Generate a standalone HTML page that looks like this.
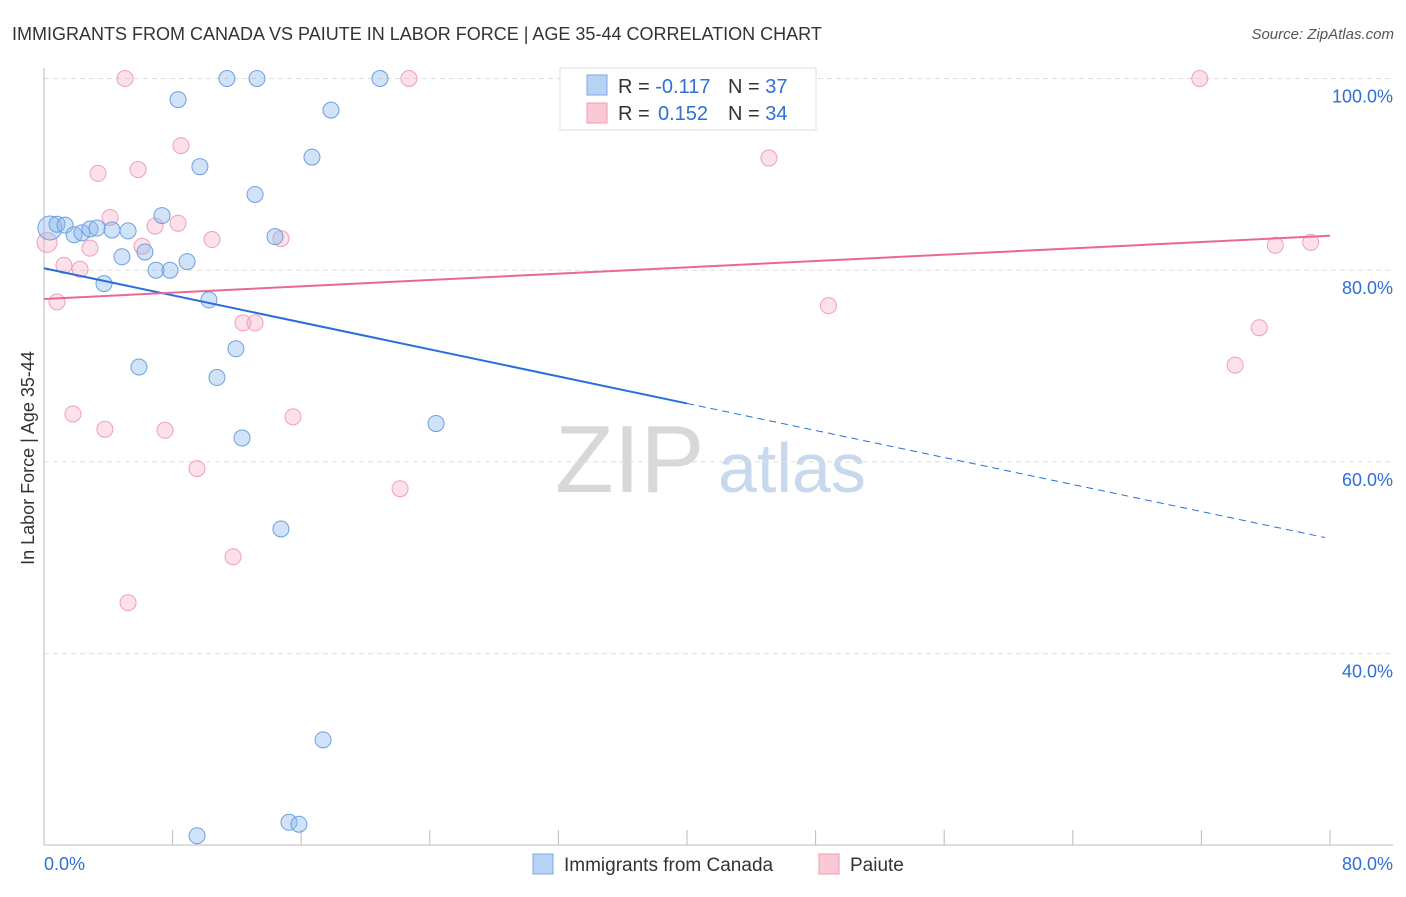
<!DOCTYPE html>
<html><head><meta charset="utf-8"><style>
body{margin:0;background:#fff;font-family:"Liberation Sans",sans-serif}
svg text{font-family:"Liberation Sans",sans-serif}
</style></head><body>
<svg id="c" width="1406" height="892">
<text x="12" y="40" font-size="18" fill="#333">IMMIGRANTS FROM CANADA VS PAIUTE IN LABOR FORCE | AGE 35-44 CORRELATION CHART</text>
<text x="1394" y="39" font-size="15" fill="#555" font-style="italic" text-anchor="end">Source: ZipAtlas.com</text>
<text x="34" y="458" font-size="18" fill="#333" text-anchor="middle" transform="rotate(-90 34 458)">In Labor Force | Age 35-44</text>
<text x="555" y="492" font-size="96" fill="#d8d8d8" font-family="Liberation Serif">ZIP</text>
<text x="718" y="492" font-size="70" fill="#c8d8ee">atlas</text>
<g id="grid"></g><g id="pts"></g><g id="lines"></g>
<g>
<rect x="560" y="68" width="256" height="62" fill="#fff" stroke="#ddd"/>
<rect x="587" y="75" width="20" height="20" fill="#b8d2f5" stroke="#7aa8e8"/>
<rect x="587" y="103" width="20" height="20" fill="#f9c9d6" stroke="#f09ab3"/>
<text x="618" y="93" font-size="20" fill="#333">R = <tspan fill="#2f6fd6">-0.117</tspan><tspan x="728">N = </tspan><tspan fill="#2f6fd6">37</tspan></text>
<text x="618" y="120" font-size="20" fill="#333">R = <tspan x="658" fill="#2f6fd6">0.152</tspan><tspan x="728">N = </tspan><tspan fill="#2f6fd6">34</tspan></text>
</g>
<g>
<rect x="533" y="854" width="20" height="20" fill="#b8d2f5" stroke="#7aa8e8"/>
<text x="564" y="871" font-size="19" fill="#333">Immigrants from Canada</text>
<rect x="819" y="854" width="20" height="20" fill="#f9c9d6" stroke="#f09ab3"/>
<text x="850" y="871" font-size="19" fill="#333">Paiute</text>
</g>
<text x="44" y="870" font-size="18" fill="#2f6fd6">0.0%</text>
<text x="1393" y="870" font-size="18" fill="#2f6fd6" text-anchor="end">80.0%</text>
</svg>
<script>
const blueX=[0.37,0.81,1.31,1.87,2.36,2.86,3.30,4.23,5.23,4.85,6.28,6.97,7.84,8.90,7.34,3.73,10.26,5.91,11.94,10.76,12.32,14.37,13.13,9.70,8.34,11.38,13.25,17.85,20.9,16.67,24.39,14.74,17.36,9.52,15.24,15.86,34.0];
const blueY=[84.4,84.8,84.7,83.7,83.9,84.3,84.4,84.2,84.1,81.4,81.9,80.0,80.0,80.9,85.7,78.6,76.9,69.9,71.8,68.8,62.5,83.5,87.9,90.8,97.8,100,100,96.7,100,91.8,64.0,53.0,31.0,21.0,22.4,22.2,100];
const pinkX=[0.19,0.81,1.24,2.24,2.86,4.11,6.10,6.91,8.34,3.36,5.85,8.52,5.04,22.7,10.45,14.74,12.38,13.13,1.80,3.79,7.53,15.49,9.52,22.15,11.76,5.23,45.1,48.8,71.9,76.6,78.8,75.6,74.1];
const pinkY=[82.9,76.7,80.5,80.1,82.3,85.5,82.5,84.6,84.9,90.1,90.5,93.0,100,100,83.2,83.3,74.5,74.5,65.0,63.4,63.3,64.7,59.3,57.2,50.1,45.3,91.7,76.3,100,82.6,82.9,74.0,70.1];
const yTicks=[100,80,60,40];
const blueTrend=[80.2,52.0];
const pinkTrend=[77.0,83.6];
const NS="http://www.w3.org/2000/svg";
const sx=v=>44+v*16.075, sy=v=>1037-v*9.585;
function mk(t,a,p){const e=document.createElementNS(NS,t);for(const k in a)e.setAttribute(k,a[k]);p.appendChild(e);return e;}
const g=document.getElementById('grid');
yTicks.forEach(v=>{
 const l=mk('line',{x1:44,x2:1393,y1:sy(v),y2:sy(v),stroke:'#ddd','stroke-dasharray':'5,4'},g);
 
 
 const t=mk('text',{x:1393,y:sy(v)+24,'font-size':18,fill:'#2f6fd6','text-anchor':'end'},g);
 t.textContent=v.toFixed(1)+'%';
 
 
});
mk('line',{x1:44,x2:44,y1:68,y2:845,stroke:'#bbb'},g);
mk('line',{x1:44,x2:1393,y1:845,y2:845,stroke:'#bbb'},g);
for(let i=0;i<=10;i++){const x=sx(i*8);mk('line',{x1:x,x2:x,y1:830,y2:845,stroke:'#bbb'},g);}
const p=document.getElementById('pts');
pinkX.forEach((x,i)=>{const c=mk('circle',{cx:sx(x),cy:sy(pinkY[i]),r:i==0?10:8,fill:'rgba(246,170,195,0.35)',stroke:'#f0a0b8','stroke-width':1},p);
 
 });
blueX.forEach((x,i)=>{const c=mk('circle',{cx:sx(x),cy:sy(blueY[i]),r:i==0?12:8,fill:'rgba(140,185,240,0.4)',stroke:'#6f9fe0','stroke-width':1},p);
 
 });
const L=document.getElementById('lines');
const by=x=>blueTrend[0]+(blueTrend[1]-blueTrend[0])*x/80;
let a=mk('line',{x1:sx(0),y1:sy(by(0)),x2:sx(40),y2:sy(by(40)),stroke:'#2a6fd8','stroke-width':2},L);


a=mk('line',{x1:sx(40),y1:sy(by(40)),x2:sx(79.7),y2:sy(by(79.7)),stroke:'#2a6fd8','stroke-width':1,'stroke-dasharray':'7,5'},L);


a=mk('line',{x1:sx(0),y1:sy(pinkTrend[0]),x2:sx(80),y2:sy(pinkTrend[1]),stroke:'#e8689a','stroke-width':2},L);


</script>
</body></html>
